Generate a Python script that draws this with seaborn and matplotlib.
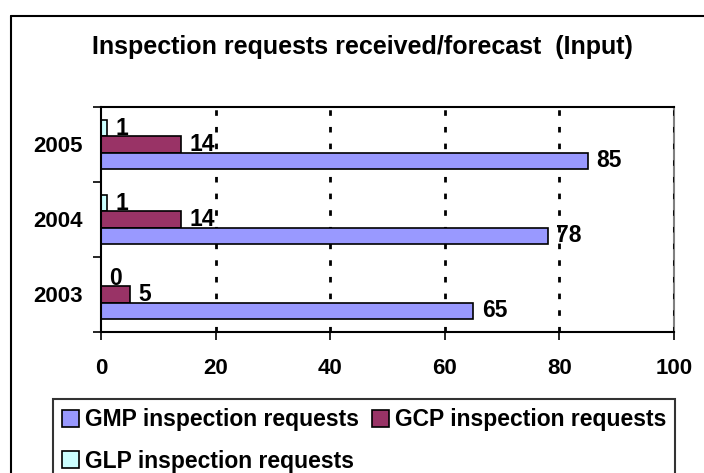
import matplotlib
matplotlib.use("Agg")
import matplotlib.pyplot as plt
from matplotlib.lines import Line2D
from matplotlib.patches import Patch
import seaborn as sns
import pandas as pd

years = ["2005", "2004", "2003"]
gmp = [85, 78, 65]
gcp = [14, 14, 5]
glp = [1, 1, 0]
series_names = ["GMP inspection requests", "GCP inspection requests", "GLP inspection requests"]
colors = {"GMP inspection requests": "#9999FF",
          "GCP inspection requests": "#993366",
          "GLP inspection requests": "#CCFFFF"}
x_ticks = [0, 20, 40, 60, 80, 100]
title = "Inspection requests received/forecast  (Input)"

rows = []
for name, vals in zip(series_names, [gmp, gcp, glp]):
    for y, v in zip(years, vals):
        rows.append({"year": y, "series": name, "value": v})
df = pd.DataFrame(rows)

sns.set_theme(style="white")
plt.rcParams["font.family"] = ["Liberation Sans", "DejaVu Sans"]
plt.rcParams["font.weight"] = "bold"
plt.rcParams["text.color"] = "black"
plt.rcParams["xtick.color"] = "black"
plt.rcParams["ytick.color"] = "black"
plt.rcParams["axes.labelcolor"] = "black"

fig = plt.figure(figsize=(7.04, 4.73), dpi=100)
W, H = 704, 473
ax = fig.add_axes([101 / W, 1 - 332 / H, (674 - 101) / W, (332 - 107) / H])

hue_draw = ["GLP inspection requests", "GCP inspection requests", "GMP inspection requests"]
sns.barplot(data=df, y="year", x="value", hue="series", order=years, hue_order=hue_draw,
            palette=colors, orient="h", width=0.645, dodge=True, gap=0,
            edgecolor="black", linewidth=1.2, saturation=1, ax=ax, legend=False, errorbar=None,
            zorder=2)

for cont in ax.containers:
    ax.bar_label(cont, padding=6, fontsize=16.5, fontweight="bold", color="black")

ax.set_xlim(0, 100)
ax.set_ylim(2.5, -0.5)
ax.set_xticks(x_ticks)
ax.set_xticklabels([str(t) for t in x_ticks], fontsize=16, fontweight="bold", color="black")
ax.set_yticks([0, 1, 2])
ax.set_yticklabels(years, fontsize=16, fontweight="bold", color="black")
ax.tick_params(axis="y", length=0, pad=13)
ax.tick_params(axis="x", length=6, width=1.2, direction="out", pad=13, color="black", bottom=True)
ax.set_yticks([-0.5, 0.5, 1.5, 2.5], minor=True)
ax.tick_params(axis="y", which="minor", length=6, width=1.2, direction="out", color="black", left=True)
ax.set_xlabel("")
ax.set_ylabel("")

for xv in x_ticks[1:]:
    ax.axvline(xv, color="black", linestyle=(0, (2, 4)), linewidth=2,
               zorder=3 if xv == 100 else 0.5)

for side in ["left", "bottom", "top"]:
    ax.spines[side].set_visible(True)
    ax.spines[side].set_color("black")
    ax.spines[side].set_linewidth(1.5)
ax.spines["right"].set_color("#808080")
ax.spines["right"].set_linewidth(1.5)

fig.text(362 / W, 1 - 47 / H, title, ha="center", va="center", fontsize=18,
         fontweight="bold", color="black")

handles = [Patch(facecolor=colors[n], edgecolor="black", linewidth=1.2) for n in series_names]
order = [0, 2, 1]
leg = fig.legend([handles[i] for i in order], [series_names[i] for i in order],
                 ncol=2, loc="upper left",
                 bbox_to_anchor=(53 / W, 1 - 399 / H),
                 frameon=True, fancybox=False,
                 prop={"size": 16.5, "weight": "bold"},
                 handlelength=0.75, handleheight=0.75, handletextpad=0.25,
                 columnspacing=0.55, labelspacing=0.8, borderpad=0.4, borderaxespad=0)
leg.get_frame().set_edgecolor("black")
leg.get_frame().set_linewidth(1.5)
for t in leg.get_texts():
    t.set_color("black")

fig.add_artist(Line2D([11 / W, 11 / W], [0, 1 - 16 / H], transform=fig.transFigure, color="black", lw=1.5))
fig.add_artist(Line2D([11 / W, 1.0], [1 - 16 / H, 1 - 16 / H], transform=fig.transFigure, color="black", lw=1.5))

fig.savefig("out.png", dpi=100)
